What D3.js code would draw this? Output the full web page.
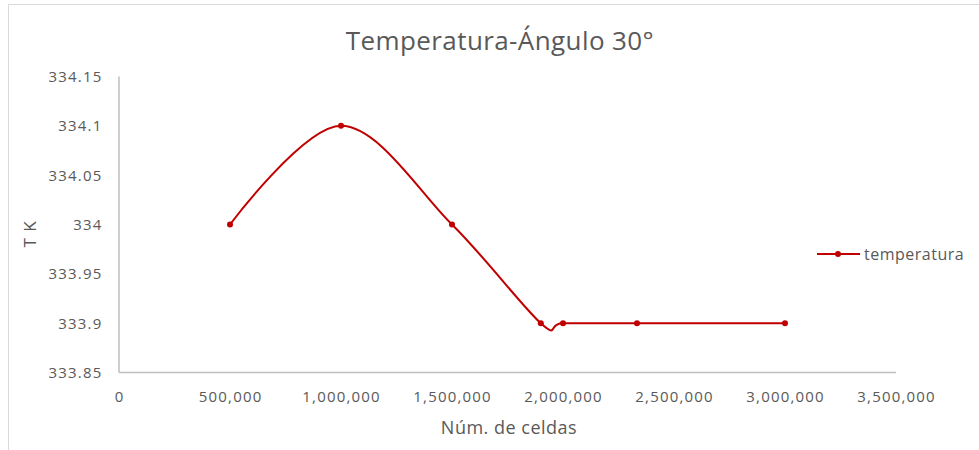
<!DOCTYPE html>
<meta charset="utf-8">
<style>
body { margin: 0; background: #fff; }
svg text { font-family: "Open Sans", sans-serif; fill: #595959; }
</style>
<body>
<div id="chart"></div>
<script src="https://d3js.org/d3.v7.min.js"></script>
<script>

// data
var celdas = [500000, 1000000, 1500000, 1900000, 2000000, 2333333, 3000000];
var temperatura = [334, 334.1, 334, 333.9, 333.9, 333.9, 333.9];
var xTicks = [0, 500000, 1000000, 1500000, 2000000, 2500000, 3000000, 3500000];
var yTicks = [333.85, 333.9, 333.95, 334, 334.05, 334.1, 334.15];

var width = 979, height = 450;
var red = "#c00000";

var svg = d3.select("#chart").append("svg")
    .attr("width", width)
    .attr("height", height);

// chart border
svg.append("rect")
    .attr("x", 8.5).attr("y", 4.5)
    .attr("width", 980).attr("height", 460)
    .attr("fill", "none")
    .attr("stroke", "#d9d9d9");

var x = d3.scaleLinear().domain([0, 3500000]).range([119, 896]);
var y = d3.scaleLinear().domain([333.85, 334.15]).range([372.5, 76.5]);

// axes
svg.append("line")
    .attr("x1", x(0)).attr("x2", x(0))
    .attr("y1", y(334.15)).attr("y2", y(333.85))
    .attr("stroke", "#bfbfbf").attr("stroke-width", 1.5);
svg.append("line")
    .attr("x1", x(0)).attr("x2", x(3500000))
    .attr("y1", y(333.85)).attr("y2", y(333.85))
    .attr("stroke", "#bfbfbf").attr("stroke-width", 1.5);

var fmt = d3.format(",");
svg.selectAll(".xt")
    .data(xTicks)
  .enter().append("text")
    .attr("class", "xt")
    .attr("x", function(d) { return x(d) + 0.6; })
    .attr("y", 402)
    .attr("text-anchor", "middle")
    .style("font-size", "15px")
    .style("letter-spacing", "1.2px")
    .text(function(d) { return fmt(d); });

svg.selectAll(".yt")
    .data(yTicks)
  .enter().append("text")
    .attr("class", "yt")
    .attr("x", 102.5)
    .attr("y", function(d) { return y(d) + 5.5; })
    .attr("text-anchor", "end")
    .style("font-size", "15px")
    .style("letter-spacing", "1.2px")
    .text(function(d) { return String(+d.toFixed(2)); });

// titles
svg.append("text")
    .attr("x", 500).attr("y", 50)
    .attr("text-anchor", "middle")
    .style("font-size", "26px")
    .style("letter-spacing", "0.4px")
    .text("Temperatura-Ángulo 30°");

svg.append("text")
    .attr("x", 509).attr("y", 434)
    .attr("text-anchor", "middle")
    .style("font-size", "18px")
    .style("letter-spacing", "0.5px")
    .text("Núm. de celdas");

svg.append("text")
    .attr("transform", "translate(36,234) rotate(-90)")
    .attr("text-anchor", "middle")
    .style("font-size", "17px")
    .style("letter-spacing", "1px")
    .text("T K");

// series
var pts = celdas.map(function(c, i) { return [c, temperatura[i]]; });
var line = d3.line()
    .x(function(d) { return x(d[0]); })
    .y(function(d) { return y(d[1]); })
    .curve(d3.curveCatmullRom.alpha(0));

svg.append("path")
    .datum(pts)
    .attr("d", line)
    .attr("fill", "none")
    .attr("stroke", red)
    .attr("stroke-width", 2);

svg.selectAll(".pt")
    .data(pts)
  .enter().append("circle")
    .attr("class", "pt")
    .attr("cx", function(d) { return x(d[0]); })
    .attr("cy", function(d) { return y(d[1]); })
    .attr("r", 3)
    .attr("fill", red);

// legend
svg.append("line")
    .attr("x1", 817).attr("x2", 860)
    .attr("y1", 254).attr("y2", 254)
    .attr("stroke", red).attr("stroke-width", 2);
svg.append("circle")
    .attr("cx", 838).attr("cy", 254).attr("r", 3)
    .attr("fill", red);
svg.append("text")
    .attr("x", 864).attr("y", 260)
    .style("font-size", "16px")
    .style("letter-spacing", "0.5px")
    .text("temperatura");

</script>
</body>
